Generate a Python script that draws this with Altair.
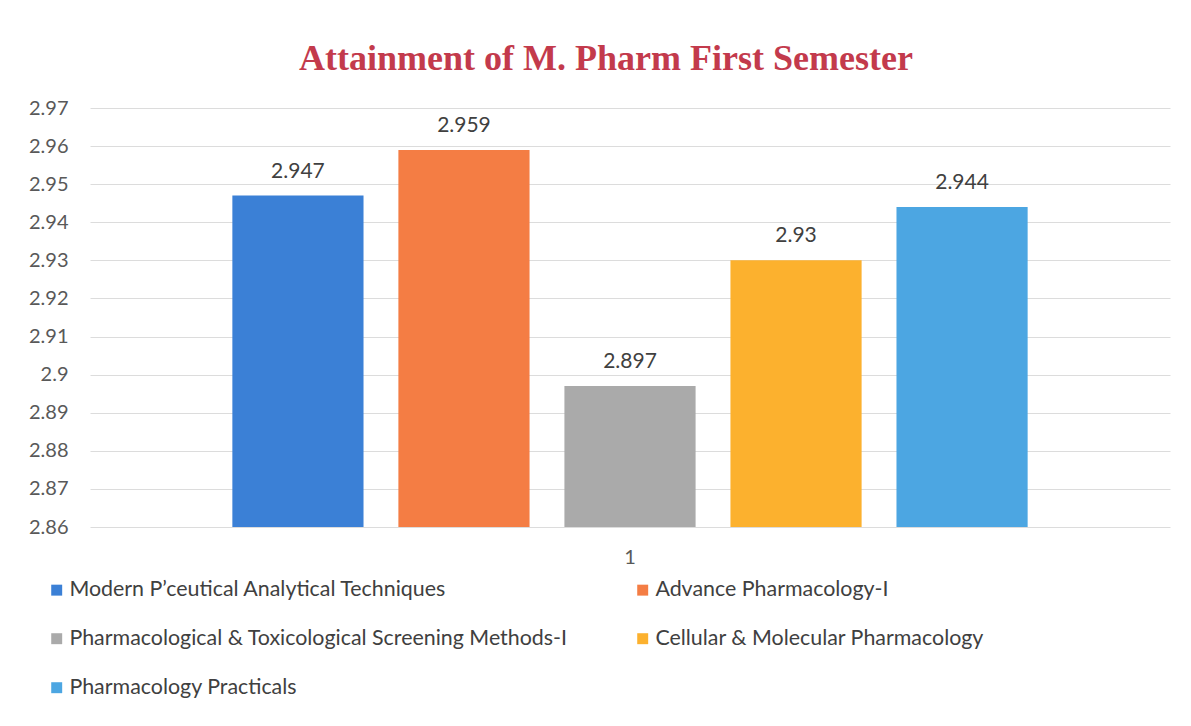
import altair as alt
import pandas as pd

subjects = [
    "Modern P\u2019ceutical Analytical Techniques",
    "Advance Pharmacology-I",
    "Pharmacological & Toxicological Screening Methods-I",
    "Cellular & Molecular Pharmacology",
    "Pharmacology Practicals",
]
values = [2.947, 2.959, 2.897, 2.93, 2.944]
colors = ["#3b80d6", "#f47d44", "#aaaaaa", "#fcb12e", "#4ca6e2"]
group = ["1"] * 5
y_ticks = [2.86, 2.87, 2.88, 2.89, 2.90, 2.91, 2.92, 2.93, 2.94, 2.95, 2.96, 2.97]

df = pd.DataFrame({"group": group, "subject": subjects, "value": values})

FONT = "Lato"

x = alt.X("group:N", title=None,
          scale=alt.Scale(paddingInner=0, paddingOuter=0.179),
          axis=alt.Axis(labelAngle=0, labelFontSize=20, labelColor="#595959",
                        labelFont=FONT, ticks=False, domain=False, labelPadding=20))
xo = alt.XOffset("subject:N", sort=subjects,
                 scale=alt.Scale(paddingInner=0.21, paddingOuter=0))
y = alt.Y("value:Q", title=None,
          scale=alt.Scale(domain=[2.86, 2.97], zero=False, nice=False),
          axis=alt.Axis(values=y_ticks, format="~g", labelFontSize=20,
                        labelColor="#595959", labelFont=FONT, ticks=False,
                        domain=False, gridColor="#dcdcdc", labelPadding=22,
                        labelOverlap=False))

base = alt.Chart(df)

bars = base.mark_bar().encode(
    x=x, xOffset=xo, y=y,
    y2=alt.datum(2.86),
    color=alt.Color("subject:N", sort=subjects,
                    scale=alt.Scale(domain=subjects, range=colors),
                    legend=alt.Legend(title=None, orient="none", direction="horizontal",
                                      columns=2, legendX=-44, legendY=471,
                                      labelFontSize=21.4, labelFont=FONT,
                                      labelColor="#404040", symbolType="square",
                                      symbolSize=120, symbolStrokeWidth=0,
                                      labelOffset=2,
                                      columnPadding=64, rowPadding=26,
                                      labelLimit=700)),
)

labels = base.mark_text(baseline="bottom", dy=-14, fontSize=21, font=FONT,
                        color="#404040").encode(
    x=x, xOffset=xo, y=y,
    text=alt.Text("value:Q", format="~g"),
)

chart = (bars + labels).properties(
    width=1080, height=419,
    title=alt.TitleParams("Attainment of M. Pharm First Semester",
                          font="Liberation Serif", fontSize=36, fontWeight="bold",
                          color="#c33a4c", offset=20, dx=-24),
    autosize=alt.AutoSizeParams(type="none"),
    padding={"left": 82, "top": 100, "right": 5, "bottom": 200},
    background="white",
).configure_view(strokeWidth=0, stroke=None)

chart.save("out.html", embed_options={"renderer": "svg", "actions": False})
